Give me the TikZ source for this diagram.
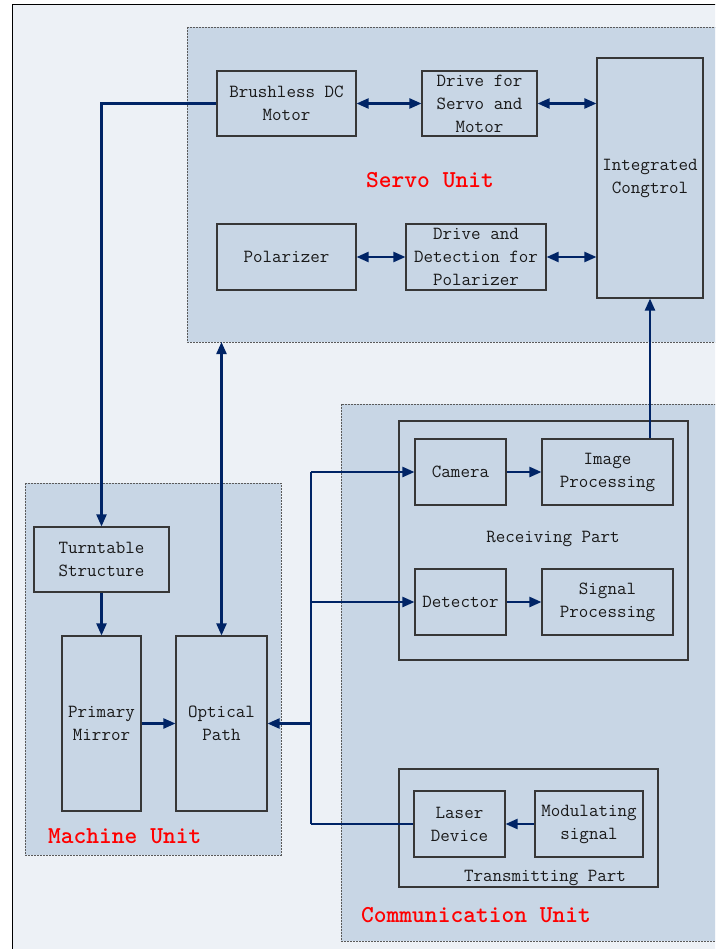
\documentclass[tikz,border=0pt]{standalone}
\usepackage{fontspec}
\usetikzlibrary{arrows.meta}
\definecolor{navy}{RGB}{0,36,102}
\definecolor{boxfill}{RGB}{200,214,229}
\definecolor{bgfill}{RGB}{237,241,246}
\definecolor{boxline}{RGB}{55,55,55}
\definecolor{txt}{RGB}{25,25,25}
\definecolor{unitline}{RGB}{90,90,90}
\tikzset{
  blk/.style={draw=boxline, line width=1.1pt, fill=boxfill, inner sep=0pt, align=center,
    text=txt, font=\ttfamily\fontsize{18.5}{23}\selectfont},
  unitbox/.style={draw=unitline, fill=boxfill, line width=0.9pt, dash pattern=on 2pt off 1pt},
  partbox/.style={draw=boxline, line width=1.1pt},
  unitlabel/.style={text=red, font=\ttfamily\bfseries\fontsize{24.3}{28}\selectfont, inner sep=0pt},
  partlabel/.style={text=txt, font=\ttfamily\fontsize{18.5}{23}\selectfont, inner sep=0pt},
  conn/.style={draw=navy, line width=2.2pt},
  arr/.style={conn, -{Triangle[length=12pt,width=10pt]}},
  bidir/.style={conn, {Triangle[length=12pt,width=10pt]}-{Triangle[length=12pt,width=10pt]}}
}
\begin{document}
\begin{tikzpicture}[x=1pt,y=-1pt]
\useasboundingbox (0,0) rectangle (715,949);
\clip (0,0) rectangle (715,949);
\fill[white] (0,0) rectangle (715,949);
\fill[bgfill] (12,5) rectangle (720,955);
\draw[black, line width=1pt] (12,955) -- (12,5) -- (720,5);

% unit boxes
\draw[unitbox] (187,27) rectangle (722,342);
\draw[unitbox] (25,483) rectangle (281,855);
\draw[unitbox] (341,404) rectangle (722,941);
\draw[partbox] (399,421) rectangle (688,660);
\draw[partbox] (399,769) rectangle (658,887);

% servo unit
\node[blk, minimum width=139pt, minimum height=65pt] (bldc) at (286.5,103.5) {Brushless DC\\Motor};
\node[blk, minimum width=115pt, minimum height=65pt] (dsm) at (479.5,103.5) {Drive for\\Servo and\\Motor};
\node[blk, minimum width=106pt, minimum height=240pt] (ic) at (650,178) {Integrated\\Congtrol};
\node[blk, minimum width=139pt, minimum height=66pt] (pol) at (286.5,257) {Polarizer};
\node[blk, minimum width=140pt, minimum height=66pt] (ddp) at (476,257) {Drive and\\Detection for\\Polarizer};
\node[unitlabel] (servolab) at (430,180) {Servo Unit};

% machine unit
\node[blk, minimum width=135pt, minimum height=65pt] (tt) at (101.5,559.5) {Turntable\\Structure};
\node[blk, minimum width=79pt, minimum height=175pt] (pm) at (101.5,723.5) {Primary\\Mirror};
\node[blk, minimum width=91pt, minimum height=175pt] (op) at (221.5,723.5) {Optical\\Path};
\node[unitlabel, anchor=west] (machlab) at (48,836) {Machine Unit};

% communication unit
\node[blk, minimum width=91pt, minimum height=66pt] (cam) at (460.5,472) {Camera};
\node[blk, minimum width=131pt, minimum height=66pt] (img) at (607.5,472) {Image\\Processing};
\node[partlabel] (reclab) at (553,539) {Receiving Part};
\node[blk, minimum width=91pt, minimum height=66pt] (det) at (460.5,602) {Detector};
\node[blk, minimum width=131pt, minimum height=66pt] (sig) at (607.5,602) {Signal\\Processing};
\node[blk, minimum width=91pt, minimum height=66pt] (laser) at (459.5,824) {Laser\\Device};
\node[blk, minimum width=108pt, minimum height=66pt] (mod) at (589,824) {Modulating\\signal};
\node[partlabel] (tralab) at (545,878) {Transmitting Part};
\node[unitlabel, anchor=west] (comlab) at (361,915) {Communication Unit};

% coordinates
\coordinate (servobot) at (221.5,342);
\coordinate (b1) at (311,472);
\coordinate (b4) at (311,824);

% connectors
\draw[bidir] (bldc.east) -- (dsm.west);
\draw[bidir] (dsm.east) -- (ic.west |- dsm.east);
\draw[bidir] (pol.east) -- (ddp.west);
\draw[bidir] (ddp.east) -- (ic.west |- ddp.east);
\draw[arr] (bldc.west) -| (tt.north);
\draw[arr] (tt.south) -- (pm.north);
\draw[bidir] (servobot) -- (op.north);
\draw[arr] (pm.east) -- (op.west);
\draw[conn] (b1) -- (b4);
\draw[arr] (b1) -- (cam.west);
\draw[arr] (b1 |- det.west) -- (det.west);
\draw[arr] (b1 |- op.east) -- (op.east);
\draw[conn] (b4) -- (laser.west);
\draw[arr] (mod.west) -- (laser.east);
\draw[arr] (cam.east) -- (img.west);
\draw[arr] (det.east) -- (sig.west);
\draw[arr] (img.north -| ic.south) -- (ic.south);
\end{tikzpicture}
\end{document}
